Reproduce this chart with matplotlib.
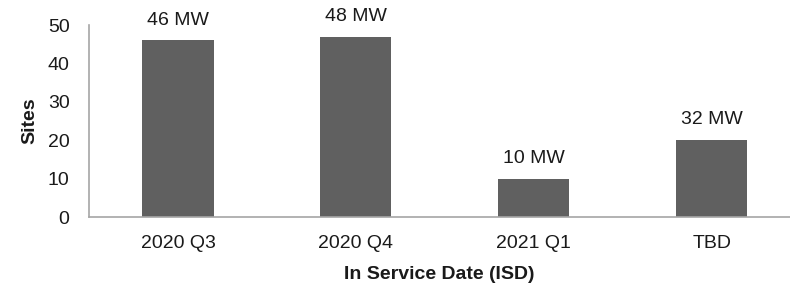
import matplotlib.pyplot as plt
import numpy as np

plt.rcParams["font.family"] = ["Liberation Sans", "DejaVu Sans"]

categories = ["2020 Q3", "2020 Q4", "2021 Q1", "TBD"]
sites = [46, 47, 10, 20]
mw_labels = ["46 MW", "48 MW", "10 MW", "32 MW"]

fs = 14
txt = "#1a1a1a"

fig = plt.figure(figsize=(7.9, 2.88), dpi=100)
ax = fig.add_axes([89 / 790, 71 / 288, (790 - 89) / 790, 192 / 288])

x = np.arange(len(categories))
bars = ax.bar(x, sites, width=0.4, color="#606060")

for b, lab in zip(bars, mw_labels):
    ax.annotate(lab, (b.get_x() + b.get_width() / 2, b.get_height()),
                xytext=(0, 8.5), textcoords="offset points",
                ha="center", va="bottom", fontsize=fs, color=txt)

ax.set_xlim(-0.5, 3.44)
ax.set_ylim(0, 50)
ax.set_yticks([0, 10, 20, 30, 40, 50])
ax.set_xticks(x)
ax.set_xticklabels(categories)
ax.tick_params(axis="both", length=0, labelsize=fs, labelcolor=txt)
ax.tick_params(axis="y", pad=14)
ax.tick_params(axis="x", pad=13)

for s in ["top", "right"]:
    ax.spines[s].set_visible(False)
for s in ["left", "bottom"]:
    ax.spines[s].set_color("#a6a6a6")
    ax.spines[s].set_linewidth(1.2)

ax.set_ylabel("Sites", fontsize=fs, fontweight="bold", color=txt, labelpad=7)
ax.set_xlabel("In Service Date (ISD)", fontsize=fs, fontweight="bold", color=txt, labelpad=10)

fig.savefig("out.png", dpi=100)
